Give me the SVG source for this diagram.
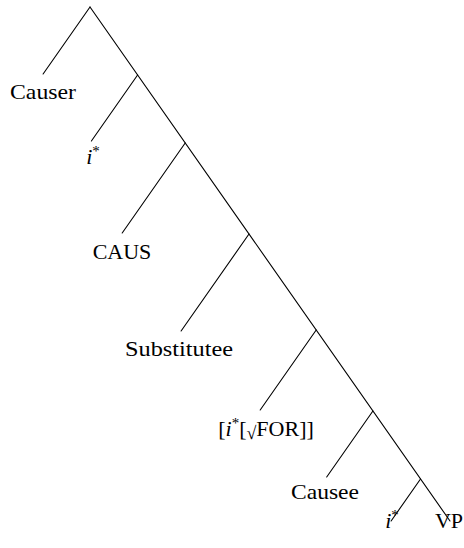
<svg xmlns="http://www.w3.org/2000/svg" width="464" height="548" viewBox="0 0 464 548">
<style>
  .lbl { font-family: "Liberation Serif", "DejaVu Serif", serif; font-size: 22px; fill: #000; text-anchor: middle; }
  .it { font-style: italic; }
  .sup { font-size: 15px; }
  .edges line { stroke: #000; stroke-width: 1.1; stroke-linecap: round; }
</style>
<rect width="464" height="548" fill="#fff"/>
<g id="connectors" class="edges">
  <line x1="90" y1="7" x2="450" y2="521"/>
  <line x1="90" y1="7" x2="43.1" y2="74"/>
  <line x1="137.6" y1="75" x2="91.4" y2="141"/>
  <line x1="185.2" y1="143" x2="122.2" y2="233"/>
  <line x1="249" y1="234" x2="181.1" y2="331"/>
  <line x1="316.2" y1="330" x2="260.2" y2="410"/>
  <line x1="372.9" y1="411" x2="326.7" y2="477"/>
  <line x1="420.5" y1="479" x2="391.1" y2="521"/>
</g>
<g id="n-causer"><text class="lbl" x="43" y="99" textLength="66" lengthAdjust="spacingAndGlyphs">Causer</text></g>
<g id="n-i1"><text class="lbl" x="93" y="164"><tspan class="it">i</tspan><tspan class="sup" dy="-8">*</tspan></text></g>
<g id="n-caus"><text class="lbl" x="122" y="259">CAUS</text></g>
<g id="n-substitutee"><text class="lbl" x="179" y="356" textLength="108" lengthAdjust="spacingAndGlyphs">Substitutee</text></g>
<g id="n-for"><text class="lbl" x="266" y="436">[<tspan class="it">i</tspan><tspan class="sup" dy="-8">*</tspan><tspan dy="8">[</tspan><tspan font-size="18" dy="3">√</tspan><tspan dy="-3">FOR]]</tspan></text></g>
<g id="n-causee"><text class="lbl" x="325" y="499" textLength="68" lengthAdjust="spacingAndGlyphs">Causee</text></g>
<g id="n-i2"><text class="lbl" x="392" y="528"><tspan class="it">i</tspan><tspan class="sup" dy="-8">*</tspan></text></g>
<g id="n-vp"><text class="lbl" x="449" y="528">VP</text></g>
</svg>
